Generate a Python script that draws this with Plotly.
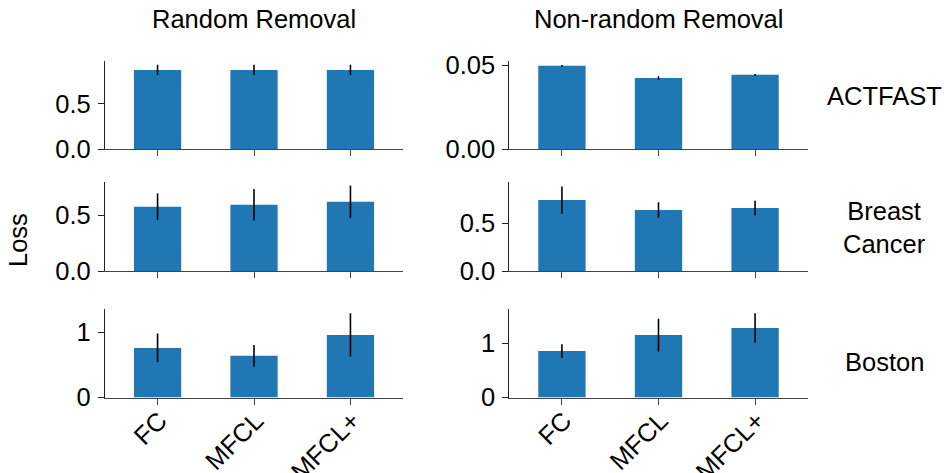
import plotly.graph_objects as go

# Models compared in every panel
models = ["FC", "MFCL", "MFCL+"]

# Mean loss and spread per dataset, random removal
actfast_random = [0.878, 0.878, 0.878]
actfast_random_err = [0.057, 0.057, 0.057]
breast_random = [0.578, 0.596, 0.623]
breast_random_err = [0.12, 0.142, 0.145]
boston_random = [0.76, 0.638, 0.959]
boston_random_err = [0.22, 0.166, 0.33]

# Mean loss and spread per dataset, non-random removal
actfast_nonrandom = [0.0496, 0.0423, 0.0442]
actfast_nonrandom_err = [0.0005, 0.0011, 0.0005]
breast_nonrandom = [0.745, 0.64, 0.661]
breast_nonrandom_err = [0.143, 0.082, 0.077]
boston_nonrandom = [0.853, 1.147, 1.276]
boston_nonrandom_err = [0.126, 0.30, 0.27]

column_titles = ["Random Removal", "Non-random Removal"]
row_titles = ["ACTFAST", "Breast<br>Cancer", "Boston"]

W, H = 947, 473
FONT = "Liberation Sans, Arial, sans-serif"
FS = 25.5
BAR_COLOR = "#1f77b4"

# panel layout: (values, errors, y range, tick values, tick format)
panels = [
    [(actfast_random, actfast_random_err, 0.98, [0, 0.5], ".1f"),
     (actfast_nonrandom, actfast_nonrandom_err, 0.0526, [0, 0.05], ".2f")],
    [(breast_random, breast_random_err, 0.80, [0, 0.5], ".1f"),
     (breast_nonrandom, breast_nonrandom_err, 0.934, [0, 0.5], ".1f")],
    [(boston_random, boston_random_err, 1.356, [0, 1], "d"),
     (boston_nonrandom, boston_nonrandom_err, 1.626, [0, 1], "d")],
]

col_px = [(105, 403), (509.3, 807.7)]
row_px = [(60.7, 149), (182, 271), (309, 397.5)]

fig = go.Figure()
layout = {}
k = 0
for r in range(3):
    for c in range(2):
        k += 1
        vals, errs, ymax, tvals, fmt = panels[r][c]
        xa = "x" if k == 1 else f"x{k}"
        ya = "y" if k == 1 else f"y{k}"
        fig.add_trace(go.Bar(
            x=list(range(len(models))), y=vals,
            width=0.49,
            marker=dict(color=BAR_COLOR, line=dict(width=0)),
            error_y=dict(type="data", array=errs, visible=True,
                         color="black", thickness=1.6, width=0),
            xaxis=xa, yaxis=ya, showlegend=False,
        ))
        x0, x1 = col_px[c]
        y0, y1 = row_px[r]
        layout[f"xaxis{'' if k == 1 else k}"] = dict(
            domain=[x0 / W, x1 / W],
            anchor=ya,
            range=[-0.545, 2.545],
            tickmode="array",
            tickvals=list(range(len(models))),
            ticktext=models if r == 2 else ["", "", ""],
            showticklabels=(r == 2),
            tickangle=-45,
            ticklabelstandoff=-9,
            ticklabelshift=2,
            ticks="outside", ticklen=6, tickwidth=1, tickcolor="#444",
            showline=True, linecolor="#444", linewidth=1.2,
            showgrid=False, zeroline=False, automargin=False,
            tickfont=dict(family=FONT, size=FS, color="black"),
            fixedrange=True,
        )
        layout[f"yaxis{'' if k == 1 else k}"] = dict(
            domain=[1 - y1 / H, 1 - y0 / H],
            anchor=xa,
            range=[0, ymax],
            tickmode="array",
            tickvals=tvals,
            tickformat=fmt,
            ticks="outside", ticklen=6, tickwidth=1, tickcolor="#222",
            showline=True, linecolor="#222", linewidth=1.2,
            showgrid=False, zeroline=False, automargin=False,
            tickfont=dict(family=FONT, size=FS, color="black"),
            ticklabelstandoff=2,
            fixedrange=True,
        )

annotations = []
for c, title in enumerate(column_titles):
    x0, x1 = col_px[c]
    annotations.append(dict(
        text=title, x=(x0 + x1) / 2 / W, y=1 - 19 / H,
        xref="paper", yref="paper", showarrow=False,
        xanchor="center", yanchor="middle",
        font=dict(family=FONT, size=FS, color="black"),
    ))
for r, (label, yc) in enumerate(zip(row_titles, [96, 227, 362])):
    annotations.append(dict(
        text=label, x=884 / W, y=1 - yc / H,
        xref="paper", yref="paper", showarrow=False,
        xanchor="center", yanchor="middle", align="center",
        font=dict(family=FONT, size=FS, color="black"),
    ))
annotations.append(dict(
    text="Loss", x=18 / W, y=1 - 240 / H,
    xref="paper", yref="paper", showarrow=False, textangle=-90,
    xanchor="center", yanchor="middle",
    font=dict(family=FONT, size=FS, color="black"),
))

fig.update_layout(
    width=W, height=H,
    margin=dict(l=0, r=0, t=0, b=0, autoexpand=False),
    paper_bgcolor="white", plot_bgcolor="white",
    bargap=0.5,
    annotations=annotations,
    **layout,
)

fig.write_html("out.html")
